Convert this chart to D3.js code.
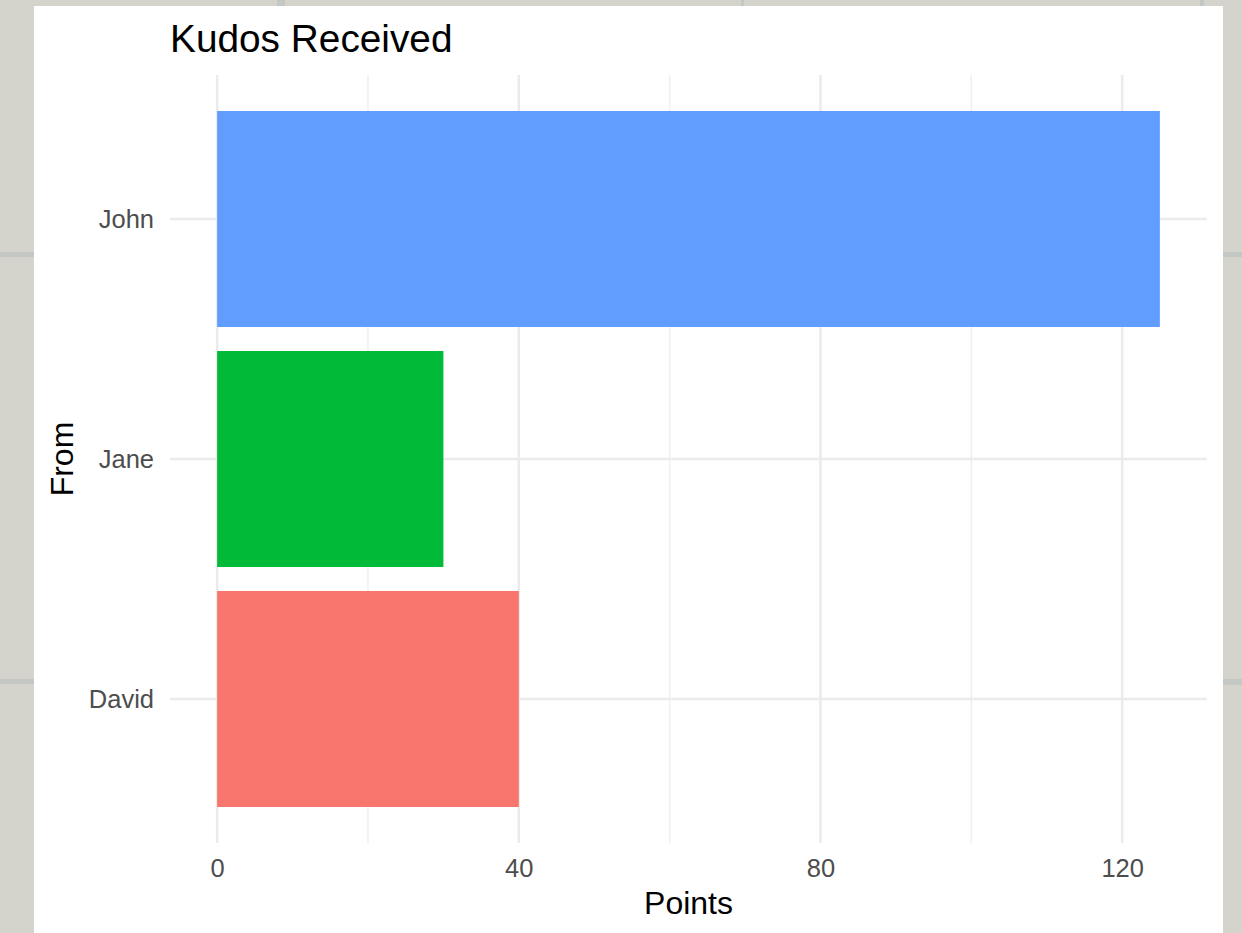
<!DOCTYPE html>
<html>
<head>
<meta charset="utf-8">
<script src="https://cdn.jsdelivr.net/npm/d3@7"></script>
<style>
  html, body { margin: 0; padding: 0; background: #d4d4cc; }
  svg { display: block; }
  text { font-family: "Liberation Sans", Arial, Helvetica, sans-serif; }
</style>
</head>
<body>
<svg id="chart" width="1242" height="933"></svg>
<script>
// ---- data ----
const categories = ["David", "Jane", "John"];          // bottom to top
const values = [40, 30, 125];
const colors = ["#F8766D", "#00BA38", "#619CFF"];
const xTicks = [0, 40, 80, 120];
const xMinor = [20, 60, 100];
const titleText = "Kudos Received";
const xTitle = "Points";
const yTitle = "From";

const svg = d3.select("#chart");

// background tile seams
const seams = [
  {x: 277, y: 0, w: 8, h: 6}, {x: 741, y: 0, w: 3, h: 6}, {x: 1200, y: 0, w: 4, h: 6},
  {x: 0, y: 252, w: 34, h: 5}, {x: 0, y: 679, w: 34, h: 5},
  {x: 1223, y: 252, w: 19, h: 5}, {x: 1223, y: 679, w: 19, h: 6}
];
svg.selectAll("rect.seam").data(seams).join("rect")
  .attr("class", "seam")
  .attr("x", d => d.x).attr("y", d => d.y).attr("width", d => d.w).attr("height", d => d.h)
  .attr("fill", "#c3c8c4");

// white plot card
svg.append("rect").attr("x", 34).attr("y", 6).attr("width", 1189).attr("height", 927).attr("fill", "#ffffff");

// panel
const panel = {left: 170, right: 1207, top: 75, bottom: 843};
const maxV = d3.max(values);
const pad = maxV * 0.05;
const x = d3.scaleLinear().domain([-pad, maxV + pad]).range([panel.left, panel.right]);
const y = d3.scaleBand().domain(categories.slice().reverse())
  .range([panel.top, panel.bottom]).paddingInner(0.1).paddingOuter(0.15);
const g = svg.append("g");

// minor grid
g.selectAll("line.minor").data(xMinor).join("line")
  .attr("x1", d => x(d)).attr("x2", d => x(d))
  .attr("y1", panel.top).attr("y2", panel.bottom)
  .attr("stroke", "#efefef").attr("stroke-width", 1.5);
// major grid vertical
g.selectAll("line.majx").data(xTicks).join("line")
  .attr("x1", d => x(d)).attr("x2", d => x(d))
  .attr("y1", panel.top).attr("y2", panel.bottom)
  .attr("stroke", "#ebebeb").attr("stroke-width", 2.5);
// major grid horizontal
g.selectAll("line.majy").data(categories).join("line")
  .attr("x1", panel.left).attr("x2", panel.right)
  .attr("y1", d => y(d) + y.bandwidth() / 2).attr("y2", d => y(d) + y.bandwidth() / 2)
  .attr("stroke", "#ebebeb").attr("stroke-width", 2.5);

// bars
g.selectAll("rect.bar").data(categories).join("rect")
  .attr("class", "bar")
  .attr("x", x(0))
  .attr("y", d => y(d))
  .attr("width", (d, i) => x(values[i]) - x(0))
  .attr("height", y.bandwidth())
  .attr("fill", (d, i) => colors[i]);

// x axis tick labels
const xAxis = d3.axisBottom(x).tickValues(xTicks).tickSize(0).tickPadding(0);
const xa = svg.append("g").attr("transform", `translate(0,${panel.bottom + 34})`).call(xAxis);
xa.select(".domain").remove();
xa.selectAll("text").attr("dy", 0).attr("font-size", "25.5px").attr("fill", "#4d4d4d")
  .attr("font-family", "Liberation Sans, Arial, sans-serif");

// y axis tick labels
const yAxis = d3.axisLeft(y).tickSize(0).tickPadding(0);
const ya = svg.append("g").attr("transform", `translate(154,0)`).call(yAxis);
ya.select(".domain").remove();
ya.selectAll("text").attr("dy", "0.35em").attr("font-size", "25.5px").attr("fill", "#4d4d4d")
  .attr("font-family", "Liberation Sans, Arial, sans-serif");

// titles
svg.append("text").attr("x", 170).attr("y", 52).attr("font-size", "38.8px").attr("fill", "#000")
  .text(titleText);
svg.append("text").attr("x", (panel.left + panel.right) / 2).attr("y", 914)
  .attr("text-anchor", "middle").attr("font-size", "32px").attr("fill", "#000").text(xTitle);
svg.append("text").attr("transform", `translate(73,${(panel.top + panel.bottom) / 2}) rotate(-90)`)
  .attr("text-anchor", "middle").attr("font-size", "32px").attr("fill", "#000").text(yTitle);
</script>
</body>
</html>
